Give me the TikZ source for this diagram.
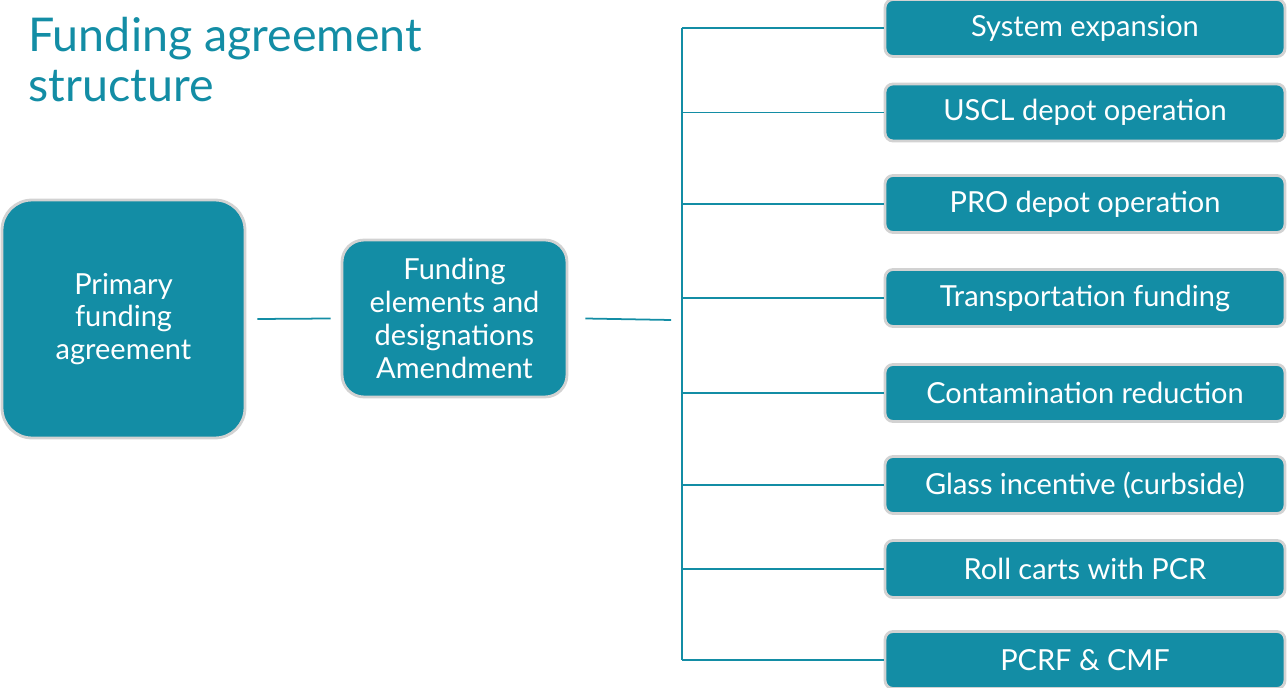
\documentclass[tikz,border=0pt]{standalone}
\usepackage{fontspec}
\setmainfont{Lato}
\usetikzlibrary{positioning,calc}
\definecolor{tealfill}{HTML}{138DA5}
\definecolor{edgegrey}{HTML}{D2D2D2}

\begin{document}
\begin{tikzpicture}[
    x=0.02cm, y=-0.02cm,
    box/.style={rectangle, draw=edgegrey, line width=1.6pt, fill=tealfill, text=white, align=center, font=\fontsize{16.5}{18.7}\selectfont},
    item/.style={box, rounded corners=0.16cm, minimum width=8cm, minimum height=1.14cm, inner sep=0pt},
    link/.style={draw=tealfill, line width=1pt}
]
    \useasboundingbox (0,0) rectangle (1287,688);

    \node[anchor=north west, inner sep=0pt, align=left, text=tealfill, font=\fontsize{26.5}{28.5}\selectfont] (title) at (28,17) {Funding agreement\\structure};

    \node[box, rounded corners=0.6cm, minimum width=4.86cm, minimum height=4.76cm] (primary) at (123.5,319) {Primary\\funding\\agreement};
    \node[box, rounded corners=0.44cm, minimum width=4.5cm, minimum height=3.14cm] (amend) at (454.5,318.5) {Funding\\elements and\\designations\\Amendment};

    \coordinate (trunk) at (682,320);

    \foreach \i/\y/\txt in {1/28/System expansion, 2/112.5/USCL depot operation, 3/204/PRO depot operation, 4/298/Transportation funding, 5/393/Contamination reduction, 6/485/Glass incentive (curbside), 7/569/Roll carts with PCR, 8/660/PCRF \& CMF} {
        \node[item] (item\i) at (1085,\y) {\txt};
        \draw[link] (trunk |- item\i.west) -- (item\i.west);
    }
    \draw[link] (trunk |- item1.west) -- (trunk |- item8.west);

    \draw[link] ([xshift=0.22cm]primary.east) -- ([xshift=-0.2cm]amend.west);
    \draw[link] ([xshift=0.34cm]amend.east) -- ([xshift=-0.22cm]trunk);
\end{tikzpicture}
\end{document}
